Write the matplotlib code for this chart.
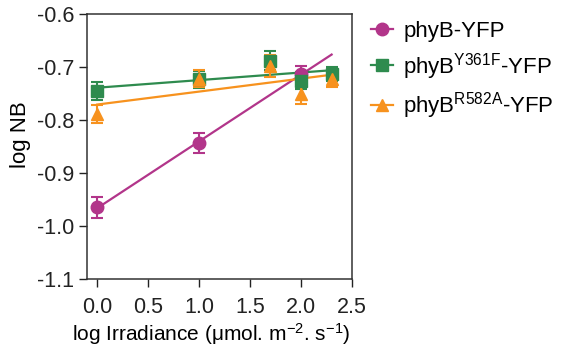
import numpy as np
import matplotlib
matplotlib.use("Agg")
import matplotlib.pyplot as plt
from matplotlib.lines import Line2D

plt.rcParams['font.family'] = ['Liberation Sans', 'DejaVu Sans']
plt.rcParams['mathtext.fontset'] = 'custom'
plt.rcParams['mathtext.rm'] = 'Liberation Sans'
plt.rcParams['mathtext.it'] = 'Liberation Sans:italic'
plt.rcParams['mathtext.bf'] = 'Liberation Sans:bold'

# Data
wt_x = [0.0, 1.0, 2.0]
wt_y = [-0.965, -0.843, -0.713]
wt_err = [0.019, 0.019, 0.015]

y361_x = [0.0, 1.0, 1.7, 2.0, 2.3]
y361_y = [-0.745, -0.723, -0.688, -0.726, -0.713]
y361_err = [0.017, 0.016, 0.018, 0.016, 0.013]

r582_x = [0.0, 1.0, 1.7, 2.0, 2.3]
r582_y = [-0.789, -0.722, -0.698, -0.751, -0.723]
r582_err = [0.017, 0.016, 0.020, 0.018, 0.015]

labels = ['phyB-YFP', r'phyB$^{\mathrm{Y361F}}$-YFP', r'phyB$^{\mathrm{R582A}}$-YFP']
colors = ['#b2358a', '#2e8b4e', '#f7921e']
markers = ['o', 's', '^']

xticks = [0.0, 0.5, 1.0, 1.5, 2.0, 2.5]
yticks = [-0.6, -0.7, -0.8, -0.9, -1.0, -1.1]

fig = plt.figure(figsize=(5.63, 3.52), dpi=100)
ax = fig.add_axes([87/563, 1-279/352, (352-87)/563, (279-14)/352])

series = [(wt_x, wt_y, wt_err), (y361_x, y361_y, y361_err), (r582_x, r582_y, r582_err)]
fit_x = np.array([0.0, 2.3])
for (x, y, e), c, m in zip(series, colors, markers):
    ax.errorbar(x, y, yerr=e, fmt=m, color=c, ms=9, capsize=4.5, elinewidth=1.5,
                capthick=1.5, zorder=3)
    p = np.polyfit(x, y, 1)
    ax.plot(fit_x, np.polyval(p, fit_x), color=c, lw=1.6, zorder=2)

ax.set_xlim(-0.1, 2.5)
ax.set_ylim(-1.1, -0.6)
ax.set_xticks(xticks)
ax.set_xticklabels([f'{v:.1f}' for v in xticks])
ax.set_yticks(yticks)
ax.set_yticklabels([f'{v:.1f}' for v in yticks])
ax.tick_params(direction='out', length=6, width=1, labelsize=15.5, colors='#222222')
ax.tick_params(axis='x', pad=7)
ax.tick_params(axis='y', pad=3)
for s in ax.spines.values():
    s.set_linewidth(1.1)
    s.set_color('#333333')

ax.set_ylabel('log NB', fontsize=16)
ax.yaxis.set_label_coords(-0.21, 0.545)
ax.set_xlabel('log Irradiance (μmol. m$^{-2}$. s$^{-1}$)', fontsize=15)
ax.xaxis.set_label_coords(0.47, -0.16)

handles = [Line2D([], [], color=c, marker=m, ms=9, lw=1.6) for c, m in zip(colors, markers)]
fig.legend(handles, labels, loc='upper left', bbox_to_anchor=(362/563, 1-12/352),
           frameon=False, fontsize=16, handlelength=1.0, handletextpad=0.45,
           labelspacing=0.4, borderaxespad=0)

fig.savefig('out.png', dpi=100)
